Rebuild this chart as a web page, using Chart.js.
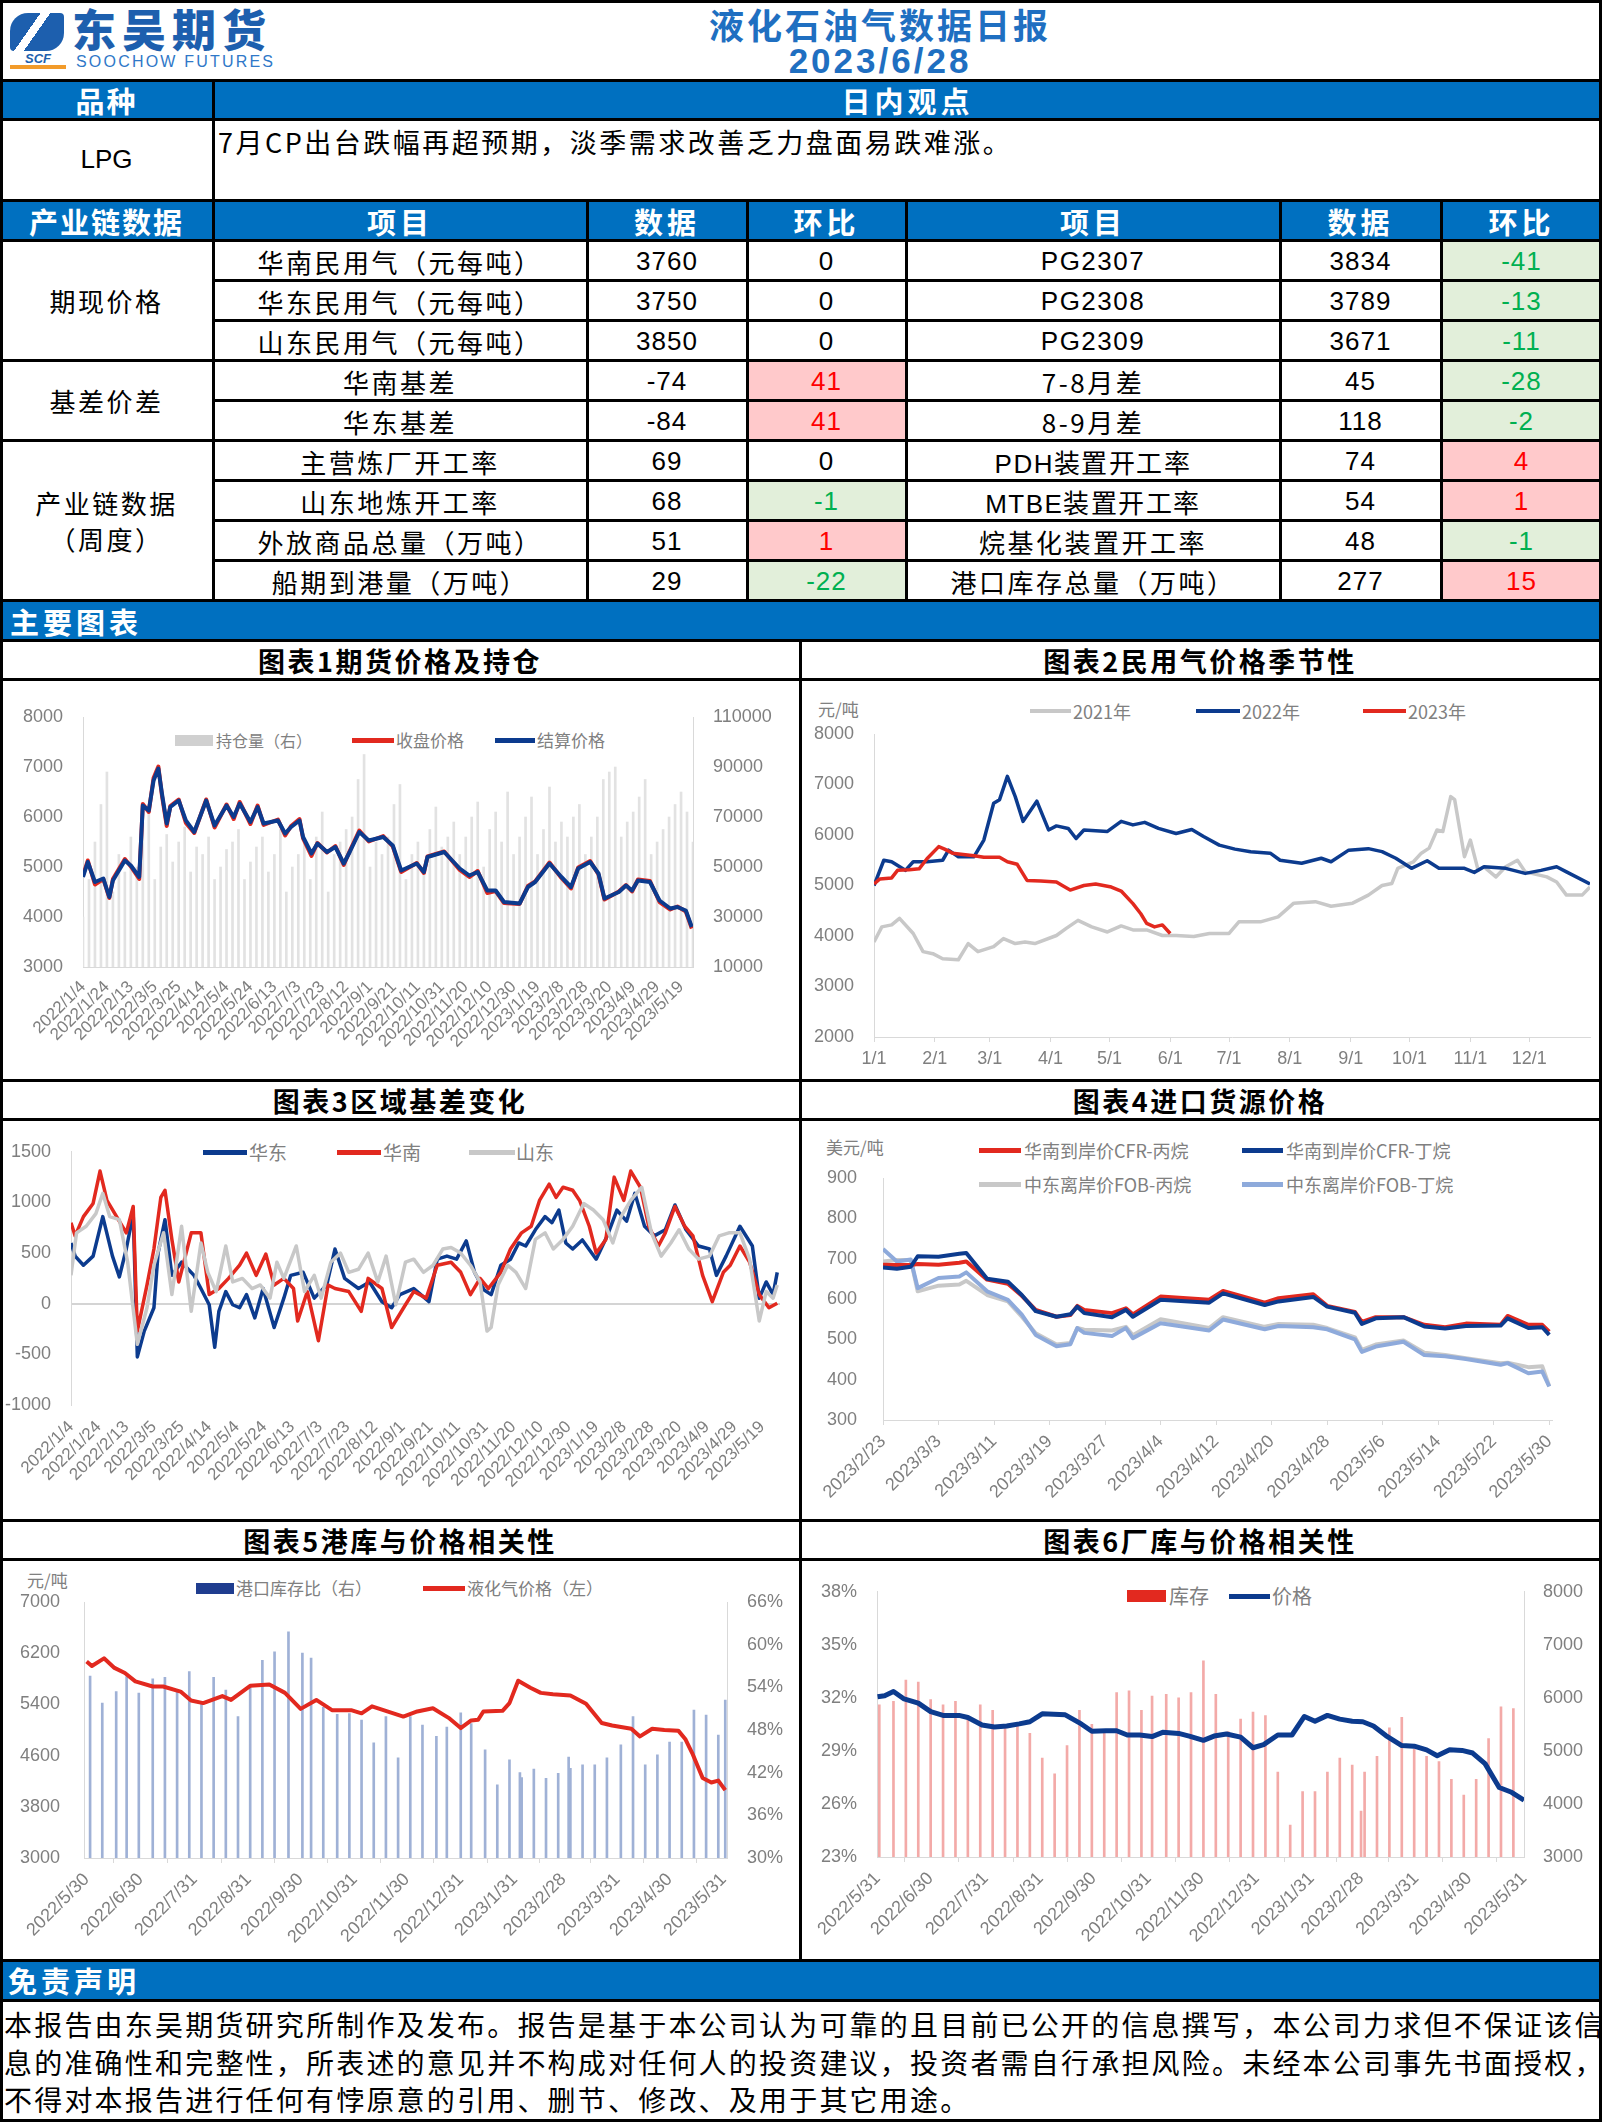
<!DOCTYPE html>
<html lang="zh-CN">
<head>
<meta charset="utf-8">
<title>液化石油气数据日报</title>
<script src="https://cdn.jsdelivr.net/npm/chart.js@4.4.1/dist/chart.umd.min.js"></script>
<style>
  html, body { margin: 0; padding: 0; background: #fff; }
  #page { position: relative; width: 1602px; height: 2122px; overflow: hidden;
          font-family: "Noto Sans CJK SC", "Noto Sans", sans-serif; color: #000; }
  .a { position: absolute; box-sizing: border-box; white-space: nowrap; }
  .c { display: flex; align-items: center; justify-content: center; }
  .band { background: #0070c0; color: #fff; font-weight: 700; }
</style>
</head>
<body>
<div id="page"></div>
<script>
// ---- 表格数据 ----
const groupNames = ['期现价格', '基差价差', '产业链数据<br>（周度）'];
const groupRows = [3, 2, 4];
const leftItems = ['华南民用气（元每吨）', '华东民用气（元每吨）', '山东民用气（元每吨）', '华南基差', '华东基差',
  '主营炼厂开工率', '山东地炼开工率', '外放商品总量（万吨）', '船期到港量（万吨）'];
const leftVals = [3760, 3750, 3850, -74, -84, 69, 68, 51, 29];
const leftChg = [0, 0, 0, 41, 41, 0, -1, 1, -22];
const rightItems = ['PG2307', 'PG2308', 'PG2309', '7-8月差', '8-9月差',
  'PDH装置开工率', 'MTBE装置开工率', '烷基化装置开工率', '港口库存总量（万吨）'];
const rightVals = [3834, 3789, 3671, 45, 118, 74, 54, 48, 277];
const rightChg = [-41, -13, -11, -28, -2, 4, 1, -1, 15];

// ---- 图表1 期货价格及持仓（x: 距2022/1/4天数）----
const c1Ticks = ['2022/1/4', '2022/1/24', '2022/2/13', '2022/3/5', '2022/3/25', '2022/4/14', '2022/5/4', '2022/5/24',
  '2022/6/13', '2022/7/3', '2022/7/23', '2022/8/12', '2022/9/1', '2022/9/21', '2022/10/11', '2022/10/31',
  '2022/11/20', '2022/12/10', '2022/12/30', '2023/1/19', '2023/2/8', '2023/2/28', '2023/3/20', '2023/4/9',
  '2023/4/29', '2023/5/19'];
const c1Days = [0, 4, 10, 17, 22, 25, 35, 40, 47, 50, 55, 59, 63, 66, 70, 73, 80, 86, 93, 103, 110, 120, 126, 131, 140,
  146, 151, 163, 169, 174, 181, 184, 191, 196, 204, 211, 218, 223, 231, 239, 251, 259, 266, 279, 285, 288, 302, 315,
  323, 330, 338, 345, 352, 365, 372, 378, 390, 400, 408, 414, 424, 431, 436, 448, 454, 459, 464, 474, 482, 491, 497,
  504, 509];
const c1Settle = [4800, 5100, 4700, 4770, 4400, 4730, 5130, 5030, 4800, 6230, 6130, 6730, 6970, 6470, 5870, 6200, 6330,
  5930, 5700, 6330, 5830, 6230, 6000, 6270, 5900, 6200, 5870, 5930, 5670, 5800, 5930, 5600, 5270, 5470, 5300, 5400,
  5070, 5300, 5700, 5530, 5600, 5430, 4930, 5070, 4900, 5200, 5300, 4970, 4830, 4900, 4530, 4530, 4300, 4270, 4600,
  4700, 5070, 4800, 4600, 4970, 5100, 4870, 4370, 4500, 4630, 4530, 4730, 4700, 4330, 4170, 4200, 4130, 3800];
const c1Close = [4830, 5130, 4650, 4760, 4380, 4760, 5160, 5010, 4760, 6260, 6100, 6780, 7010, 6430, 5820, 6220, 6350,
  5880, 5680, 6350, 5790, 6250, 5960, 6300, 5860, 6230, 5840, 5950, 5630, 5820, 5960, 5570, 5220, 5480, 5290, 5420,
  5040, 5320, 5730, 5510, 5620, 5410, 4900, 5080, 4880, 5210, 5310, 4940, 4800, 4920, 4480, 4520, 4280, 4260, 4620,
  4710, 5090, 4780, 4570, 4990, 5120, 4850, 4350, 4510, 4640, 4510, 4750, 4720, 4300, 4150, 4210, 4110, 3770];
const c1OpenInt = [30000, 45000, 60000, 75000, 88000, 40000, 55000, 48000, 62000, 50000, 68000, 72000, 45000, 58000,
  63000, 52000, 60000, 66000, 48000, 58000, 55000, 62000, 45000, 50000, 57000, 60000, 65000, 45000, 52000, 58000,
  62000, 48000, 55000, 65000, 40000, 50000, 55000, 60000, 45000, 62000, 72000, 40000, 55000, 60000, 65000, 70000,
  85000, 95000, 50000, 60000, 55000, 62000, 75000, 83000, 45000, 55000, 60000, 50000, 65000, 74000, 58000, 62000,
  68000, 55000, 62000, 70000, 76000, 50000, 65000, 72000, 60000, 80000, 55000, 62000, 70000, 78000, 55000, 65000,
  82000, 60000, 68000, 62000, 70000, 75000, 55000, 62000, 70000, 85000, 88000, 90000, 62000, 68000, 72000, 78000,
  85000, 55000, 60000, 65000, 70000, 75000, 80000, 72000, 60000];

// ---- 图表2 民用气价格季节性（x: 年内天数）----
const c2Ticks = ['1/1', '2/1', '3/1', '4/1', '5/1', '6/1', '7/1', '8/1', '9/1', '10/1', '11/1', '12/1'];
const c2Days2021 = [0, 4, 9, 13, 20, 25, 30, 35, 43, 48, 53, 61, 66, 72, 77, 82, 93, 98, 104, 111, 119, 126, 132, 139,
  147, 154, 163, 171, 181, 186, 197, 206, 214, 225, 233, 244, 252, 259, 264, 267, 275, 279, 283, 287, 290, 294, 296,
  301, 304, 308, 311, 317, 322, 328, 332, 343, 348, 353, 361, 365];
const c2Vals2021 = [3880, 4180, 4220, 4350, 4050, 3690, 3650, 3550, 3530, 3850, 3690, 3790, 3950, 3850, 3880, 3850,
  4010, 4150, 4310, 4180, 4080, 4200, 4120, 4120, 4010, 4010, 3990, 4050, 4050, 4280, 4280, 4380, 4650, 4680, 4590,
  4650, 4810, 5000, 5040, 5340, 5470, 5640, 5740, 6100, 6070, 6760, 6700, 5570, 5900, 5300, 5370, 5170, 5370, 5500,
  5270, 5170, 5070, 4810, 4810, 4970];
const c2Days2022 = [0, 5, 9, 16, 20, 27, 35, 38, 43, 51, 56, 61, 64, 68, 72, 76, 83, 89, 93, 99, 103, 107, 119, 126,
  132, 138, 145, 154, 162, 168, 176, 184, 192, 202, 207, 218, 228, 233, 242, 252, 259, 266, 274, 282, 288, 301, 306,
  311, 322, 332, 340, 348, 353, 365];
const c2Vals2022 = [5000, 5500, 5470, 5300, 5470, 5470, 5500, 5700, 5570, 5570, 5900, 6630, 6700, 7160, 6760, 6270,
  6670, 6100, 6180, 6130, 5930, 6100, 6070, 6270, 6200, 6250, 6130, 6030, 6110, 5970, 5800, 5720, 5670, 5640, 5500,
  5440, 5540, 5470, 5700, 5730, 5670, 5540, 5340, 5490, 5340, 5340, 5260, 5370, 5340, 5240, 5300, 5370, 5270, 5030];
const c2Days2023 = [0, 3, 9, 12, 18, 23, 27, 33, 36, 40, 51, 56, 64, 68, 73, 78, 85, 93, 96, 100, 107, 113, 121, 126,
  132, 136, 139, 143, 147, 151];
const c2Vals2023 = [5030, 5130, 5150, 5300, 5310, 5330, 5530, 5770, 5720, 5640, 5590, 5560, 5560, 5470, 5420, 5100,
  5090, 5070, 5000, 4910, 5000, 5030, 4970, 4890, 4640, 4440, 4250, 4180, 4220, 4050];

// ---- 图表3 区域基差变化（x: 距2022/1/4天数）----
const c3DaysEast = [0, 3, 9, 16, 23, 30, 35, 40, 45, 48, 53, 60, 63, 68, 73, 80, 89, 94, 100, 104, 107, 112, 117, 122,
  127, 133, 139, 147, 154, 159, 168, 176, 185, 191, 198, 208, 216, 225, 232, 238, 248, 259, 265, 272, 279, 286, 292,
  299, 304, 311, 318, 324, 329, 336, 343, 348, 353, 358, 363, 370, 380, 388, 395, 402, 408, 415, 422, 430, 437, 445,
  454, 462, 467, 474, 484, 493, 498, 503, 508, 511];
const c3East = [600, 470, 380, 470, 860, 470, 265, 540, 890, -525, -270, -40, 500, 830, 280, 410, 280, 150, -10, -430,
  -75, 120, -10, -40, 90, -140, 150, -235, 55, 280, 310, 55, 185, 540, 250, 150, 215, 20, -40, 90, 150, 20, 440, 470,
  440, 620, 310, 135, 90, 380, 440, 600, 570, 730, 860, 800, 925, 600, 540, 630, 440, 670, 925, 815, 1090, 765, 670,
  730, 975, 730, 570, 540, 280, 470, 765, 570, 55, 215, 90, 310];
const c3DaysSouth = [0, 3, 9, 16, 21, 26, 33, 40, 45, 48, 55, 60, 65, 68, 73, 78, 87, 94, 100, 107, 114, 122, 127, 134,
  141, 147, 154, 161, 164, 171, 179, 186, 191, 201, 210, 215, 225, 232, 242, 248, 257, 265, 275, 282, 289, 296, 302,
  311, 318, 326, 333, 339, 346, 351, 356, 363, 368, 375, 380, 387, 393, 400, 405, 412, 418, 425, 430, 437, 444, 450,
  457, 464, 472, 477, 484, 491, 498, 505, 511];
const c3South = [800, 670, 860, 990, 1310, 1020, 860, 700, 960, -270, 185, 540, 1050, 1120, 635, 215, 700, 700, 90,
  150, 250, 380, 500, 280, 490, 185, 250, 150, -170, 120, -365, 185, 150, 120, -75, 250, 150, -235, -10, 120, 55, 380,
  410, 310, 90, 250, 150, 310, 540, 700, 765, 1020, 1180, 1050, 1150, 1120, 1020, 765, 500, 635, 1250, 1020, 1310,
  1150, 765, 570, 700, 960, 765, 670, 280, 20, 310, 380, 570, 410, 90, -40, 5];
const c3DaysSd = [0, 4, 11, 18, 23, 28, 35, 41, 48, 55, 60, 67, 73, 80, 87, 94, 99, 105, 112, 117, 124, 131, 137, 144,
  149, 154, 163, 169, 176, 181, 188, 195, 201, 208, 215, 222, 228, 235, 242, 248, 255, 262, 269, 275, 282, 289, 296,
  301, 304, 309, 316, 322, 329, 336, 343, 349, 356, 363, 371, 378, 385, 392, 398, 405, 413, 420, 427, 434, 440, 447,
  454, 462, 469, 476, 484, 491, 498, 503, 508, 511];
const c3Sd = [280, 700, 765, 890, 1090, 860, 830, 410, -400, -40, 380, 700, 90, 765, -75, 600, 310, 120, 570, 215,
  250, 150, 185, 55, 410, 250, 570, 120, 280, 55, 410, 500, 310, 340, 500, 215, 470, -10, 410, 440, 310, 380, 540,
  555, 500, 380, 215, -270, -235, 185, 380, 310, 150, 635, 700, 540, 635, 765, 990, 925, 830, 600, 860, 1020, 1150,
  700, 470, 600, 730, 540, 440, 470, 670, 700, 700, 440, -170, 120, 55, 185];

// ---- 图表4 进口货源价格（x: 距2023/2/23天数）----
const c4Ticks = ['2023/2/23', '2023/3/3', '2023/3/11', '2023/3/19', '2023/3/27', '2023/4/4', '2023/4/12', '2023/4/20',
  '2023/4/28', '2023/5/6', '2023/5/14', '2023/5/22', '2023/5/30'];
const c4Days = [0, 2, 4, 5, 8, 11, 12, 15, 18, 20, 22, 25, 27, 28, 29, 33, 35, 36, 40, 47, 49, 55, 57, 62, 64, 68, 69,
  71, 75, 78, 81, 84, 89, 90, 93, 95, 96];
const c4CfrPropane = [685, 684, 684, 687, 685, 690, 693, 648, 638, 608, 573, 556, 560, 583, 573, 565, 577, 562, 606,
  598, 620, 591, 602, 612, 583, 568, 543, 555, 555, 536, 530, 539, 536, 558, 536, 536, 519];
const c4CfrButane = [678, 675, 680, 706, 705, 712, 714, 650, 643, 610, 570, 556, 562, 581, 565, 555, 573, 556, 598,
  591, 614, 585, 594, 605, 581, 566, 538, 552, 555, 532, 527, 533, 534, 552, 528, 530, 511];
const c4FobPropane = [693, 697, 697, 619, 633, 636, 645, 610, 594, 556, 515, 487, 491, 528, 524, 522, 531, 510, 550,
  528, 555, 531, 538, 536, 528, 505, 474, 487, 497, 467, 461, 453, 441, 442, 431, 433, 384];
const c4FobButane = [724, 693, 698, 627, 652, 656, 666, 619, 598, 561, 511, 483, 488, 528, 516, 508, 528, 503, 540,
  522, 549, 525, 533, 530, 525, 500, 469, 482, 494, 461, 458, 451, 437, 441, 416, 420, 383];

// ---- 图表5 港库与价格相关性（x: 距2022/5/30天数）----
const c5Ticks = ['2022/5/30', '2022/6/30', '2022/7/31', '2022/8/31', '2022/9/30', '2022/10/31', '2022/11/30',
  '2022/12/31', '2023/1/31', '2023/2/28', '2023/3/31', '2023/4/30', '2023/5/31'];
const c5PriceDays = [0, 3, 10, 16, 22, 28, 38, 44, 54, 60, 67, 78, 83, 94, 105, 114, 123, 132, 141, 152, 158, 164, 182,
  190, 199, 208, 215, 221, 225, 228, 239, 243, 248, 255, 261, 268, 278, 287, 296, 302, 313, 318, 325, 332, 340, 344,
  348, 354, 359, 363, 367];
const c5Price = [6070, 6000, 6120, 5970, 5890, 5760, 5680, 5680, 5600, 5460, 5420, 5530, 5470, 5690, 5710, 5580, 5330,
  5470, 5310, 5310, 5260, 5370, 5210, 5290, 5340, 5190, 5030, 5150, 5160, 5290, 5300, 5420, 5770, 5660, 5580, 5560,
  5540, 5410, 5110, 5070, 5020, 4900, 5020, 5000, 4990, 4860, 4640, 4250, 4180, 4210, 4060];
const c5StockDays = [2, 9, 17, 23, 30, 38, 45, 52, 59, 66, 73, 80, 87, 94, 101, 108, 116, 124, 129, 136, 144, 151, 158,
  165, 172, 179, 186, 193, 201, 207, 215, 221, 229, 236, 243, 249, 250, 257, 264, 271, 277, 278, 285, 292, 299, 307,
  314, 321, 328, 335, 342, 349, 356, 363, 367];
const c5StockPct = [55.6, 51.8, 53.4, 55.5, 53.2, 55.2, 55.4, 53.6, 56.2, 51.7, 55.4, 53.6, 49.9, 54.1, 57.8, 59.0,
  61.8, 58.8, 58.1, 51.2, 50.2, 50.3, 49.4, 46.2, 49.9, 44.1, 49.9, 48.7, 47.1, 48.4, 50.4, 48.9, 45.2, 40.3, 43.8,
  42.0, 41.3, 42.5, 41.2, 41.9, 44.2, 42.6, 43.1, 43.1, 44.1, 45.9, 49.9, 43.1, 44.5, 46.3, 46.3, 50.8, 50.1, 47.3, 52.2];

// ---- 图表6 厂库与价格相关性（x: 距2022/5/31天数）----
const c6Ticks = ['2022/5/31', '2022/6/30', '2022/7/31', '2022/8/31', '2022/9/30', '2022/10/31', '2022/11/30',
  '2022/12/31', '2023/1/31', '2023/2/28', '2023/3/31', '2023/4/30', '2023/5/31'];
const c6PriceDays = [0, 4, 9, 15, 23, 30, 37, 46, 51, 59, 66, 73, 80, 86, 93, 106, 114, 121, 129, 135, 141, 148, 155,
  161, 170, 176, 184, 190, 197, 205, 212, 218, 226, 234, 241, 247, 254, 261, 268, 274, 280, 287, 296, 303, 310, 316,
  323, 330, 336, 343, 351, 358, 365];
const c6Price = [6020, 6040, 6120, 5980, 5900, 5740, 5670, 5670, 5630, 5490, 5450, 5470, 5510, 5550, 5700, 5680, 5530,
  5370, 5380, 5380, 5300, 5300, 5270, 5350, 5330, 5280, 5200, 5280, 5320, 5260, 5060, 5120, 5300, 5300, 5650, 5560,
  5670, 5600, 5560, 5550, 5470, 5290, 5100, 5090, 5020, 4910, 5020, 5010, 4960, 4760, 4310, 4220, 4070];
const c6StockDays = [1, 9, 16, 23, 30, 37, 44, 51, 58, 65, 72, 79, 86, 93, 100, 107, 114, 121, 128, 135, 142, 149, 155,
  163, 170, 177, 184, 191, 198, 205, 212, 219, 226, 233, 240, 247, 254, 261, 268, 273, 275, 282, 289, 296, 303, 310,
  317, 324, 331, 338, 345, 352, 359];
const c6StockPct = [31.6, 31.8, 33.0, 32.9, 31.9, 31.6, 31.8, 30.8, 31.6, 31.3, 30.3, 30.5, 30.0, 28.6, 27.7, 29.3,
  31.3, 30.5, 30.2, 32.3, 32.4, 31.3, 32.1, 32.2, 32.0, 32.3, 34.1, 32.2, 30.1, 30.8, 31.2, 31.0, 27.8, 24.8, 26.7,
  26.7, 27.8, 28.6, 28.2, 25.6, 27.8, 28.7, 30.3, 30.9, 29.1, 28.7, 28.4, 27.4, 26.5, 27.4, 29.7, 31.5, 31.4];

const disclaimer = [
  '本报告由东吴期货研究所制作及发布。报告是基于本公司认为可靠的且目前已公开的信息撰写，本公司力求但不保证该信',
  '息的准确性和完整性，所表述的意见并不构成对任何人的投资建议，投资者需自行承担风险。未经本公司事先书面授权，',
  '不得对本报告进行任何有悖原意的引用、删节、修改、及用于其它用途。'
];

// 颜色
const NAVY = '#0c3b8e', RED = '#e2291f', GRAY = '#c8c8c8', LBLUE = '#8eaadb';
const TICK = '#7f7f7f', AXIS = '#d9d9d9';

const page = document.getElementById('page');
function el(x, y, w, h, cls, html, style) {
  const d = document.createElement('div');
  d.className = 'a ' + (cls || '');
  d.style.cssText = `left:${x}px;top:${y}px;` + (w != null ? `width:${w}px;` : '') +
    (h != null ? `height:${h}px;` : '') + (style || '');
  if (html != null) d.innerHTML = html;
  page.appendChild(d);
  return d;
}

// ---- 页眉 ----
el(10, 13, 54, 38, '', null,
  'background:linear-gradient(125deg,#1d5fae 38%,#fff 38%,#fff 50%,#1d5fae 50%);border-radius:18px 4px 18px 4px');
el(10, 51, 56, 14, 'c', 'SCF', 'font:italic 700 13px "Liberation Sans";color:#1d5fae');
el(10, 65, 56, 4, '', null, 'background:#f29b2a');
el(72, 3, 210, 50, '', '东吴期货', 'font-size:44px;font-weight:900;color:#1d5fae;letter-spacing:6px;line-height:50px');
el(76, 51, 200, 22, '', 'SOOCHOW FUTURES', 'font:16px "Liberation Sans Narrow","Liberation Sans";color:#2f78c8;letter-spacing:2.2px;line-height:22px');
el(540, 2, 680, 42, 'c', '液化石油气数据日报', 'font-size:35px;font-weight:700;color:#1f6fc1;letter-spacing:3px');
el(540, 42, 680, 38, 'c', '2023/6/28', 'font:700 35px "Liberation Sans";color:#1f6fc1;letter-spacing:3px');

// ---- 品种 / 日内观点 ----
el(0, 80, 1602, 39, 'band');
el(0, 80, 213, 39, 'c', '品种', 'color:#fff;font-weight:700;font-size:29px;letter-spacing:2px');
el(213, 80, 1389, 39, 'c', '日内观点', 'color:#fff;font-weight:700;font-size:29px;letter-spacing:4px');
el(0, 119, 213, 81, 'c', 'LPG', 'font:26px "Liberation Sans"');
el(218, 123, 1380, 38, '', '7月CP出台跌幅再超预期，淡季需求改善乏力盘面易跌难涨。',
  'font-size:27px;letter-spacing:2.5px;line-height:38px');

// ---- 产业链数据表 ----
const cols = [0, 213, 587, 747, 906, 1280, 1441, 1602];
const heads = ['产业链数据', '项目', '数据', '环比', '项目', '数据', '环比'];
el(0, 200, 1602, 41, 'band');
heads.forEach((h, i) => el(cols[i], 200, cols[i + 1] - cols[i], 41, 'c', h,
  'color:#fff;font-weight:700;font-size:29px;letter-spacing:' + (i === 0 ? 2 : 4) + 'px'));

const TXT = 'font-size:26px;letter-spacing:2.5px';
const NUM = 'font:26px "Liberation Sans";letter-spacing:1px';
function chgCell(x, w, y, v) {
  let st = NUM;
  if (v > 0) st += ';background:#ffc9cb;color:#ff0000';
  else if (v < 0) st += ';background:#e2efda;color:#00b050';
  el(x, y, w, 40, 'c', String(v), st);
}
for (let i = 0; i < leftItems.length; i++) {
  const y = 241 + i * 40;
  el(cols[1], y, cols[2] - cols[1], 40, 'c', leftItems[i], TXT);
  el(cols[2], y, cols[3] - cols[2], 40, 'c', String(leftVals[i]), NUM);
  chgCell(cols[3], cols[4] - cols[3], y, leftChg[i]);
  el(cols[4], y, cols[5] - cols[4], 40, 'c', rightItems[i], /^[A-Z]/.test(rightItems[i]) ? NUM + ';letter-spacing:1.5px' : TXT);
  el(cols[5], y, cols[6] - cols[5], 40, 'c', String(rightVals[i]), NUM);
  chgCell(cols[6], cols[7] - cols[6], y, rightChg[i]);
}
let gy = 241;
const groupEnds = [];
groupNames.forEach((g, i) => {
  const h = groupRows[i] * 40;
  el(0, gy, 213, h, 'c', '<div style="text-align:center;line-height:36px">' + g + '</div>', TXT);
  gy += h;
  groupEnds.push(gy);
});

// ---- 主要图表 / 标题 ----
el(0, 601, 1602, 40, 'band');
el(10, 601, 300, 40, '', '主要图表', 'color:#fff;font-weight:700;font-size:29px;letter-spacing:4px;line-height:40px');
const titles = [['图表1期货价格及持仓', 0, 641], ['图表2民用气价格季节性', 800, 641], ['图表3区域基差变化', 0, 1081],
  ['图表4进口货源价格', 800, 1081], ['图表5港库与价格相关性', 0, 1521], ['图表6厂库与价格相关性', 800, 1521]];
titles.forEach(t => el(t[1], t[2], 800, 38, 'c', t[0], 'font-size:27px;font-weight:700;letter-spacing:2.5px'));

// ---- 免责声明 ----
el(0, 1961, 1602, 39, 'band');
el(8, 1961, 300, 39, '', '免责声明', 'color:#fff;font-weight:700;font-size:29px;letter-spacing:4px;line-height:39px');
disclaimer.forEach((s, i) => el(4, 2006 + i * 37.5, 1596, 37, '', s, 'font-size:28px;letter-spacing:2.2px;line-height:37px'));

// ---- 图例 ----
function legLine(x, y, w, color, th) { el(x, y - th / 2, w, th, '', null, 'background:' + color); }
function legText(x, y, txt, size) {
  el(x, y - 13, null, 26, '', txt, `font-size:${size}px;line-height:26px;color:#808080`);
}
legLine(175, 740, 38, '#d0d0d0', 11); legText(216, 740, '持仓量（右）', 16);
legLine(352, 740, 42, RED, 5); legText(396, 740, '收盘价格', 17);
legLine(495, 740, 40, NAVY, 5); legText(537, 740, '结算价格', 17);

legText(818, 709, '元/吨', 17);
legLine(1030, 711, 41, GRAY, 4); legText(1073, 711, '2021年', 18);
legLine(1196, 711, 44, NAVY, 4); legText(1242, 711, '2022年', 18);
legLine(1363, 711, 43, RED, 4); legText(1408, 711, '2023年', 18);

legLine(203, 1152, 44, NAVY, 5); legText(249, 1152, '华东', 19);
legLine(337, 1152, 44, RED, 5); legText(383, 1152, '华南', 19);
legLine(469, 1152, 46, GRAY, 5); legText(516, 1152, '山东', 19);

legText(826, 1147, '美元/吨', 17);
legLine(979, 1150, 42, RED, 5); legText(1024, 1150, '华南到岸价CFR-丙烷', 18);
legLine(1242, 1150, 41, NAVY, 5); legText(1286, 1150, '华南到岸价CFR-丁烷', 18);
legLine(979, 1184, 42, GRAY, 5); legText(1024, 1184, '中东离岸价FOB-丙烷', 18);
legLine(1242, 1184, 41, LBLUE, 5); legText(1286, 1184, '中东离岸价FOB-丁烷', 18);

legText(27, 1580, '元/吨', 17);
legLine(196, 1588, 38, '#1f3d8f', 11); legText(236, 1588, '港口库存比（右）', 17);
legLine(423, 1588, 42, RED, 5); legText(467, 1588, '液化气价格（左）', 17);

legLine(1127, 1596, 39, RED, 12); legText(1169, 1596, '库存', 20);
legLine(1229, 1596, 41, NAVY, 5); legText(1272, 1596, '价格', 20);

// ---- Chart.js ----
Chart.defaults.font.family = '"Liberation Sans", "Noto Sans CJK SC", sans-serif';
Chart.defaults.color = TICK;

function dayNum(label) {
  const p = label.split('/').map(Number);
  return Date.UTC(p[0], p[1] - 1, p[2]) / 86400000;
}
function offsets(labels, start) { return labels.map(l => dayNum(l) - dayNum(start)); }
const pts = (xs, ys) => xs.map((x, i) => ({ x, y: ys[i] }));

function canvasAt(x, y, w, h) {
  const cv = document.createElement('canvas');
  cv.width = w; cv.height = h;
  cv.style.cssText = `position:absolute;left:${x}px;top:${y}px;width:${w}px;height:${h}px`;
  page.appendChild(cv);
  return cv.getContext('2d');
}
function xAxis(min, max, tickVals, labels, height, rot, extra, fontSize) {
  return Object.assign({
    type: 'linear', min, max, offset: false,
    afterBuildTicks: s => { s.ticks = tickVals.map(v => ({ value: v })); },
    ticks: { autoSkip: false, maxRotation: rot, minRotation: rot, color: TICK, font: { size: fontSize || 18 }, padding: 6,
      callback: (v, i) => labels[i] },
    grid: { display: true, drawOnChartArea: false, tickLength: 5, color: AXIS },
    border: { color: AXIS },
    afterFit: s => { s.height = height; }
  }, extra || {});
}
function yAxis(pos, min, max, step, width, pad, fmt, extra) {
  return Object.assign({
    position: pos, min, max,
    ticks: { stepSize: step, color: TICK, font: { size: 18 }, padding: pad, callback: fmt || (v => v) },
    grid: { display: false, drawTicks: false },
    border: { color: AXIS },
    afterFit: s => { s.width = width; }
  }, extra || {});
}
function lineSet(label, data, color, width, axis, order) {
  return { type: 'line', label, data, borderColor: color, backgroundColor: color, borderWidth: width,
    pointRadius: 0, tension: 0, yAxisID: axis || 'y', order: order || 1, borderJoinStyle: 'round' };
}
const baseOpts = (padding) => ({
  responsive: false, animation: false, events: [],
  layout: { padding },
  plugins: { legend: { display: false }, tooltip: { enabled: false } }
});

// 图表1
new Chart(canvasAt(3, 681, 796, 398), {
  type: 'line',
  data: { datasets: [
    lineSet('结算价格', pts(c1Days, c1Settle), NAVY, 4, 'y', 1),
    lineSet('收盘价格', pts(c1Days, c1Close), RED, 4, 'y', 2),
    { type: 'bar', label: '持仓量（右）', data: pts(c1OpenInt.map((v, i) => i * 5), c1OpenInt),
      backgroundColor: '#e2e2e2', barThickness: 2, yAxisID: 'y1', order: 3 }
  ] },
  options: Object.assign(baseOpts({ top: 36, left: 0, right: 0, bottom: 0 }), {
    scales: {
      x: xAxis(0, 510, offsets(c1Ticks, '2022/1/4'), c1Ticks, 112, 45,
        { grid: { display: false, drawTicks: false }, ticks: { autoSkip: false, maxRotation: 45, minRotation: 45,
          color: TICK, font: { size: 17 }, padding: 10, callback: (v, i) => c1Ticks[i] } }),
      y: yAxis('left', 3000, 8000, 1000, 80, 20),
      y1: yAxis('right', 10000, 110000, 20000, 106, 20)
    }
  })
});

// 图表2
const c2TickDays = offsets(c2Ticks.map(t => '2022/' + t), '2022/1/1');
new Chart(canvasAt(802, 681, 797, 398), {
  type: 'line',
  data: { datasets: [
    lineSet('2023年', pts(c2Days2023, c2Vals2023), RED, 3.5, 'y', 1),
    lineSet('2022年', pts(c2Days2022, c2Vals2022), NAVY, 3.5, 'y', 2),
    lineSet('2021年', pts(c2Days2021, c2Vals2021), GRAY, 3.5, 'y', 3)
  ] },
  options: Object.assign(baseOpts({ top: 53, left: 0, right: 9, bottom: 0 }), {
    scales: {
      x: xAxis(0, 365, c2TickDays, c2Ticks, 42, 0, {}, 18),
      y: yAxis('left', 2000, 8000, 1000, 72, 20)
    }
  })
});

// 图表3
new Chart(canvasAt(3, 1121, 796, 398), {
  type: 'line',
  data: { datasets: [
    lineSet('山东', pts(c3DaysSd, c3Sd), GRAY, 3.5, 'y', 1),
    lineSet('华南', pts(c3DaysSouth, c3South), RED, 3.5, 'y', 2),
    lineSet('华东', pts(c3DaysEast, c3East), NAVY, 3.5, 'y', 3)
  ] },
  options: Object.assign(baseOpts({ top: 27, left: 0, right: 19, bottom: 0 }), {
    scales: {
      x: xAxis(0, 513, offsets(c1Ticks, '2022/1/4'), c1Ticks, 114, 45,
        { grid: { display: false, drawTicks: false }, border: { display: false },
          ticks: { autoSkip: false, maxRotation: 45, minRotation: 45, color: TICK, font: { size: 17 }, padding: 12,
            callback: (v, i) => c1Ticks[i] } }),
      y: yAxis('left', -1000, 1500, 500, 68, 20, null, {
        grid: { display: true, drawTicks: false, lineWidth: 2,
          color: c => (c.tick && c.tick.value === 0 ? '#d4d4d4' : 'rgba(0,0,0,0)') }
      })
    }
  })
});

// 图表4
new Chart(canvasAt(802, 1121, 797, 398), {
  type: 'line',
  data: { datasets: [
    lineSet('华南到岸价CFR-丁烷', pts(c4Days, c4CfrButane), NAVY, 4, 'y', 1),
    lineSet('华南到岸价CFR-丙烷', pts(c4Days, c4CfrPropane), RED, 4, 'y', 2),
    lineSet('中东离岸价FOB-丁烷', pts(c4Days, c4FobButane), LBLUE, 4, 'y', 3),
    lineSet('中东离岸价FOB-丙烷', pts(c4Days, c4FobPropane), GRAY, 4, 'y', 4)
  ] },
  options: Object.assign(baseOpts({ top: 57, left: 0, right: 47, bottom: 0 }), {
    scales: {
      x: xAxis(0, 96.4, offsets(c4Ticks, '2023/2/23'), c4Ticks, 99, 45),
      y: yAxis('left', 300, 900, 100, 81, 26)
    }
  })
});

// 图表5
new Chart(canvasAt(3, 1561, 796, 397), {
  type: 'line',
  data: { datasets: [
    lineSet('液化气价格（左）', pts(c5PriceDays, c5Price), RED, 4, 'y', 1),
    { type: 'bar', label: '港口库存比（右）', data: pts(c5StockDays, c5StockPct),
      backgroundColor: '#9fb1d6', barThickness: 2, yAxisID: 'y1', order: 2 }
  ] },
  options: Object.assign(baseOpts({ top: 41, left: 0, right: 0, bottom: 0 }), {
    scales: {
      x: xAxis(-1.5, 368, offsets(c5Ticks, '2022/5/30'), c5Ticks, 100, 45),
      y: yAxis('left', 3000, 7000, 800, 81, 24),
      y1: yAxis('right', 30, 66, 6, 72, 20, v => v + '%')
    }
  })
});

// 图表6
new Chart(canvasAt(802, 1561, 797, 397), {
  type: 'line',
  data: { datasets: [
    lineSet('价格', pts(c6PriceDays, c6Price), NAVY, 5, 'y1', 1),
    { type: 'bar', label: '库存', data: pts(c6StockDays, c6StockPct),
      backgroundColor: '#f3aaa8', barThickness: 2, yAxisID: 'y', order: 2 }
  ] },
  options: Object.assign(baseOpts({ top: 22, left: 0, right: 0, bottom: 0 }), {
    scales: {
      x: xAxis(-0.3, 365, offsets(c6Ticks, '2022/5/31'), c6Ticks, 101, 45),
      y: yAxis('left', 23, 38, 3, 75, 20, v => v + '%'),
      y1: yAxis('right', 3000, 8000, 1000, 75, 19)
    }
  })
});

// ---- 表格线条 ----
function hl(y, x1, x2, t) { el(x1, y, x2 - x1, t || 3, '', null, 'background:#000'); }
function vl(x, y1, y2, t) { el(x, y1, t || 3, y2 - y1, '', null, 'background:#000'); }
hl(0, 0, 1602); hl(2119, 0, 1602); vl(0, 0, 2122); vl(1599, 0, 2122);
[79, 118, 199, 239, 599, 639, 678, 1079, 1118, 1519, 1558, 1959, 1999].forEach(y => hl(y, 0, 1602));
for (let i = 1; i < leftItems.length; i++) {
  const y = 241 + i * 40 - 2;
  hl(y, groupEnds.includes(241 + i * 40) ? 0 : 212, 1602);
}
vl(212, 80, 601);
[586, 746, 905, 1279, 1440].forEach(x => vl(x, 200, 601));
vl(799, 640, 1961);
</script>
</body>
</html>
